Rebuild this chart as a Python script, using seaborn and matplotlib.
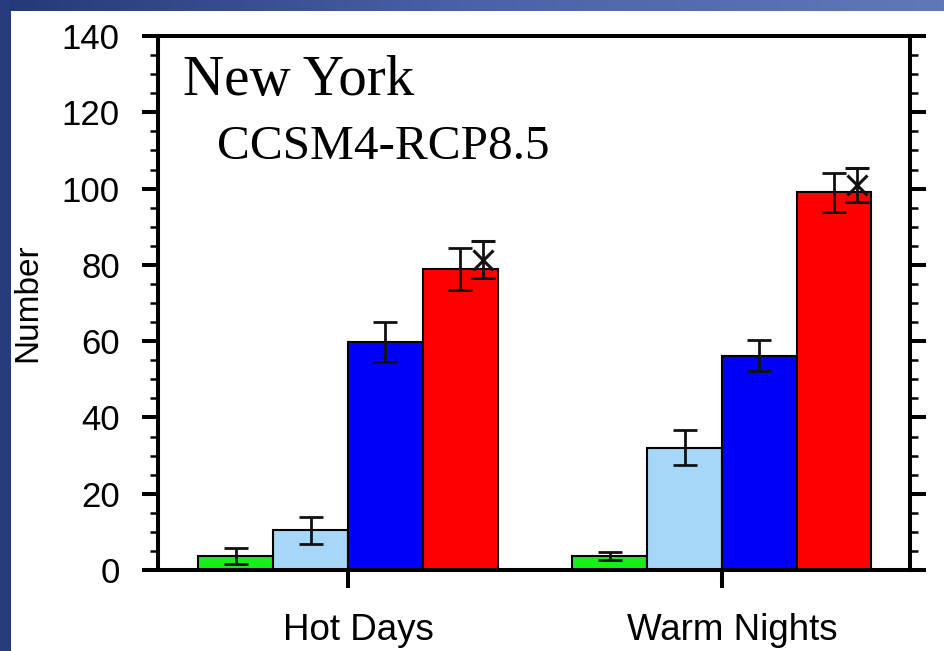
import numpy as np
import pandas as pd
import matplotlib
matplotlib.use("Agg")
import matplotlib.pyplot as plt
from matplotlib.colors import LinearSegmentedColormap
from matplotlib.ticker import MultipleLocator
from matplotlib.transforms import ScaledTranslation
import seaborn as sns

# ---- data -------------------------------------------------------------
categories = ["Hot Days", "Warm Nights"]
periods = ["P1", "P2", "P3", "P4"]
hot_days = [3.7, 10.4, 59.8, 79.0]
hot_days_err = [2.0, 3.5, 5.2, 5.5]
warm_nights = [3.7, 32.0, 56.2, 99.0]
warm_nights_err = [1.1, 4.6, 4.0, 5.2]
# additional estimate drawn as a cross beside the last bar of each group
extra_values = [81.4, 101.0]
extra_err = [4.9, 4.5]
bar_colors = ["#19ee19", "#a6d6f8", "#0000f8", "#ff0000"]
y_ticks = [0, 20, 40, 60, 80, 100, 120, 140]

sns.set_theme(style="white")
plt.rcParams["font.family"] = ["Liberation Sans", "DejaVu Sans"]

df = pd.DataFrame({
    "category": np.repeat(categories, len(periods)),
    "period": periods * len(categories),
    "value": hot_days + warm_nights,
})
errors = [hot_days_err, warm_nights_err]

fig = plt.figure(figsize=(9.45, 6.51), dpi=100)
fig.patch.set_facecolor("white")

# slide-style frame: gradient band on top, dark band on the left
band = LinearSegmentedColormap.from_list("band", ["#243978", "#4a62a8", "#6178b8"])
top = fig.add_axes([0, 1 - 11 / 651, 1, 11 / 651])
top.imshow(np.linspace(0, 1, 256)[None, :], aspect="auto", cmap=band)
top.axis("off")
left = fig.add_axes([0, 0, 11 / 945, 1])
left.imshow(np.full((2, 2), 0.05), aspect="auto", cmap=band, vmin=0, vmax=1)
left.axis("off")

ax = fig.add_axes([158 / 945, 81 / 651, 752 / 945, 534 / 651])
sns.barplot(data=df, x="category", y="value", hue="period", hue_order=periods,
            palette=bar_colors, saturation=1, edgecolor="black", linewidth=1.5,
            errorbar=None, legend=False, width=0.8, ax=ax)
bar_groups = list(ax.containers)

# error bars on every bar
for i, cont in enumerate(bar_groups):
    xs = [p.get_x() + p.get_width() / 2 for p in cont.patches]
    ys = [p.get_height() for p in cont.patches]
    es = [errors[j][i] for j in range(len(cont.patches))]
    ax.errorbar(xs, ys, yerr=es, fmt="none", ecolor="#111111", elinewidth=2.0,
                capsize=8.6, capthick=2.0, zorder=5)

# crosses with their own error bars, shifted right inside the last bar
last = bar_groups[-1]
xx = [p.get_x() + p.get_width() * 0.8 for p in last.patches]
ax.errorbar(xx, extra_values, yerr=extra_err, fmt="x", color="#111111",
            markersize=15, markeredgewidth=2.2, elinewidth=2.0,
            capsize=8.6, capthick=2.0, zorder=6)

ax.set_xlim(-0.508, 1.503)
ax.set_ylim(0, 140)
ax.set_yticks(y_ticks)
ax.yaxis.set_minor_locator(MultipleLocator(5))
ax.set_xlabel("")
ax.set_ylabel("Number", fontsize=24, color="black")
ax.yaxis.set_label_coords(-0.152, 0.5)

for s in ax.spines.values():
    s.set_visible(True)
    s.set_color("black")
    s.set_linewidth(2.9)

ax.tick_params(axis="y", which="major", direction="out", length=11.5, width=2.9,
               left=True, right=True, labelsize=25, pad=16, colors="black")
ax.tick_params(axis="y", which="minor", direction="out", length=5.8, width=1.8,
               left=True, right=True, colors="black")
ax.tick_params(axis="x", which="major", direction="out", length=13, width=2.9,
               bottom=True, top=False, labelsize=26.5, pad=17.8, colors="black")

# category labels sit slightly right of their tick marks
shift = ScaledTranslation(10 / 100, 0, fig.dpi_scale_trans)
for lab in ax.get_xticklabels():
    lab.set_transform(lab.get_transform() + shift)

serif = ["Liberation Serif", "DejaVu Serif"]
ax.text(0.033, 0.8895, "New York", transform=ax.transAxes, fontsize=41,
        family=serif, ha="left", va="baseline", color="black")
ax.text(0.0785, 0.7697, "CCSM4-RCP8.5", transform=ax.transAxes, fontsize=35.5,
        family=serif, ha="left", va="baseline", color="black")

fig.savefig("out.png", dpi=100, facecolor=fig.get_facecolor())
